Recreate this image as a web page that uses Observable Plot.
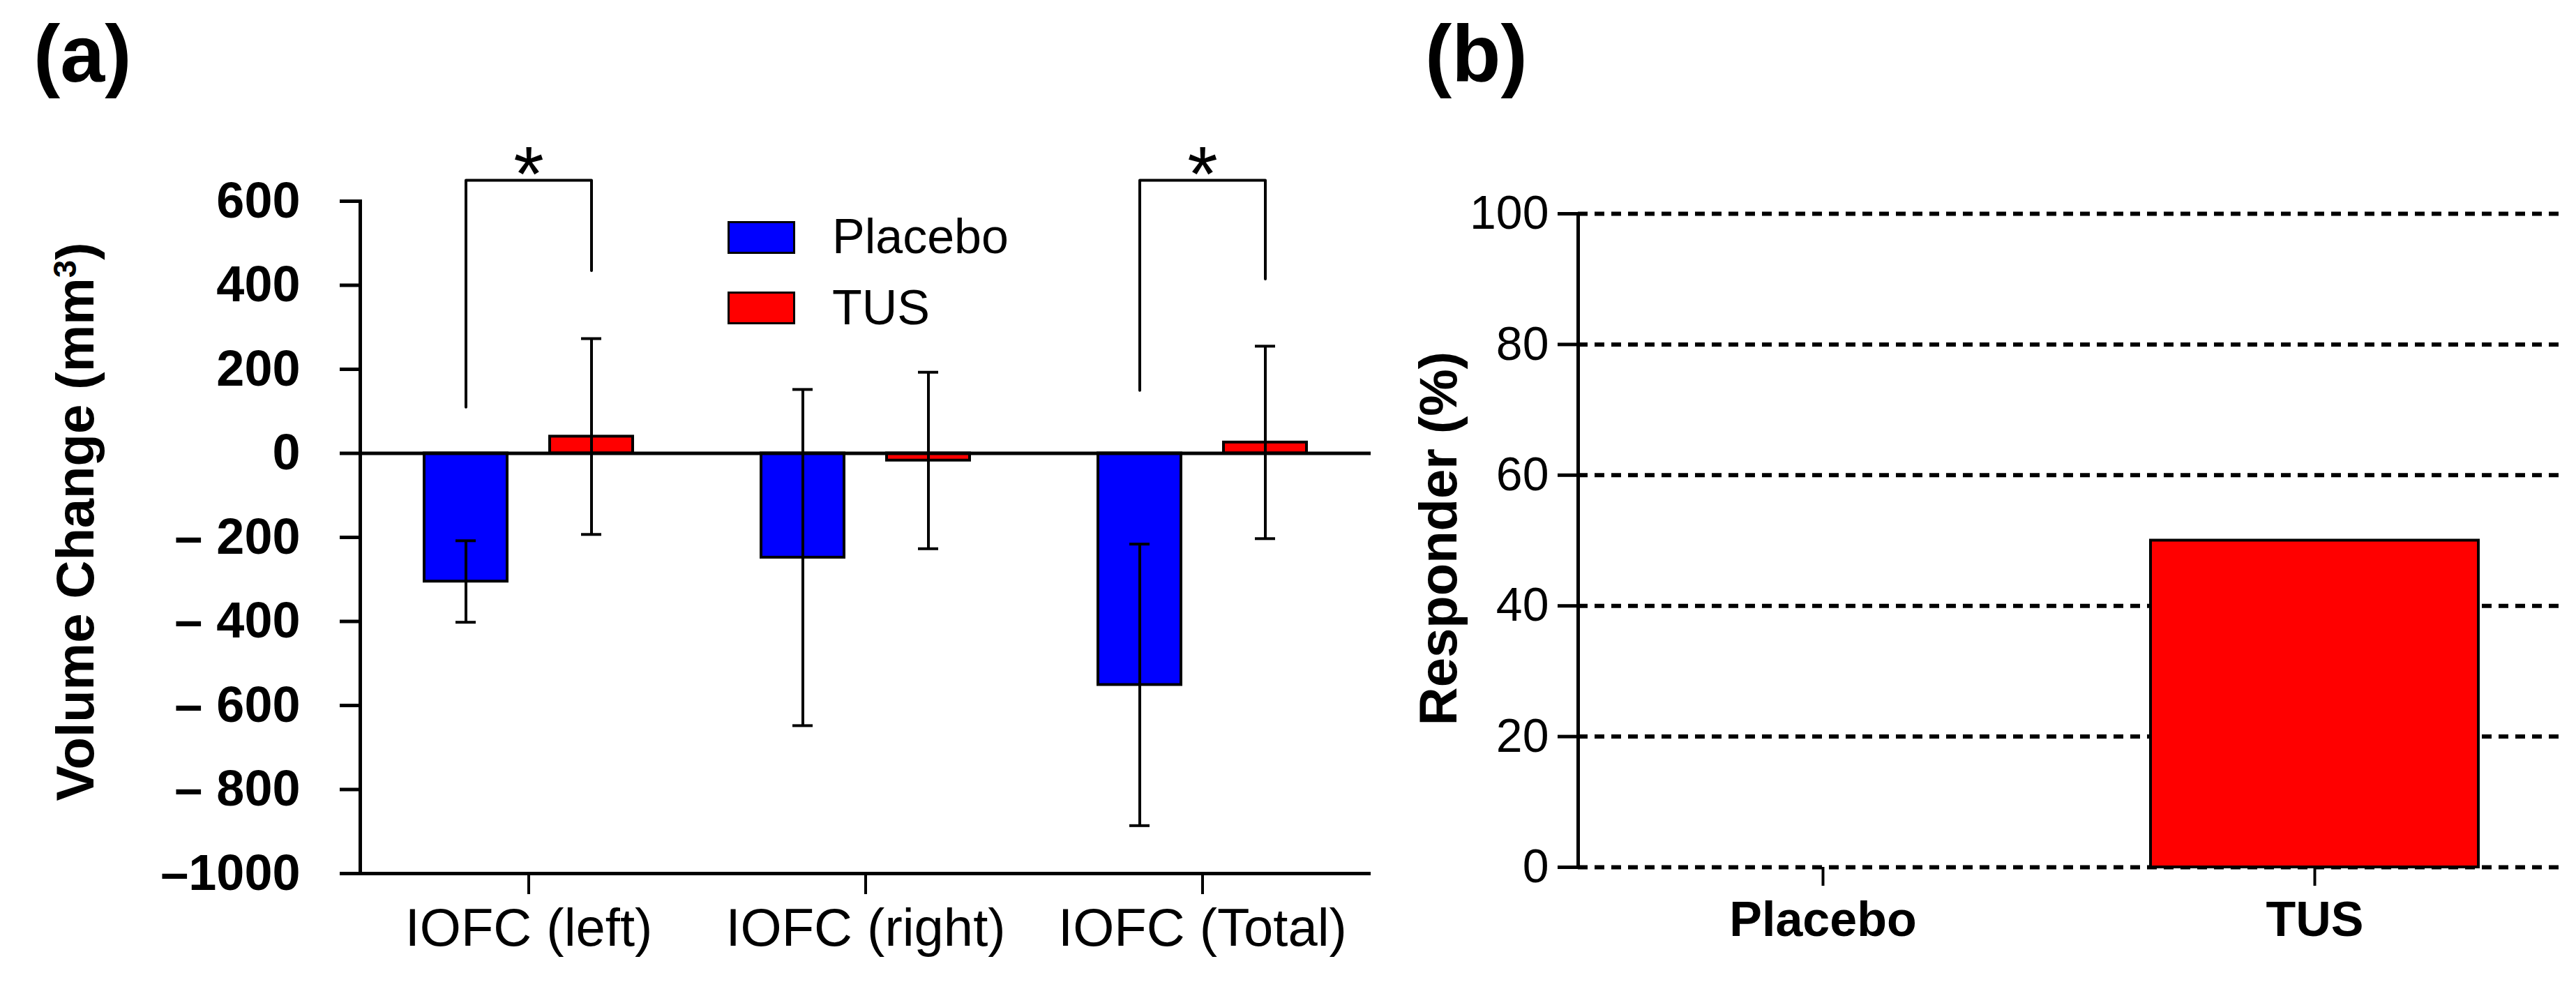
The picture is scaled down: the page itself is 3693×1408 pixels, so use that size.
<!DOCTYPE html>
<html><head><meta charset="utf-8">
<script src="https://cdn.jsdelivr.net/npm/d3@7"></script>
<script src="https://cdn.jsdelivr.net/npm/@observablehq/plot@0.6"></script>
<style>
html,body{margin:0;padding:0;background:#fff;}
#root{position:relative;width:3693px;height:1408px;overflow:hidden;font-family:"Liberation Sans",Arial,sans-serif;color:#000;}
.abs{position:absolute;white-space:nowrap;line-height:1;}
.ytitle{font-weight:bold;font-size:76px;transform:translate(-50%,-50%) rotate(-90deg);}
.panel{font-weight:bold;font-size:115px;}
.sw{position:absolute;box-sizing:border-box;border:3px solid #000;}
</style></head><body><div id="root"></div>
<script>
// ---- Panel (a) data ----
const categories = ["IOFC (left)", "IOFC (right)", "IOFC (Total)"];
const groups = ["Placebo", "TUS"];
const groupColors = ["#0000ff", "#ff0000"];
const placeboMean = [-305, -248, -551];
const placeboErr = [97, 400, 335];
const tusMean = [40, -17, 26];
const tusErr = [233, 210, 229];
const yDomainA = [-1000, 600];
const yTicksA = [600, 400, 200, 0, -200, -400, -600, -800, -1000];
const sigCategories = ["IOFC (left)", "IOFC (Total)"];
const sigTop = [650, 650];
const sigPlaceboEnd = [110, 150];
const sigTusEnd = [435, 415];
const sigLabel = ["*", "*"];

// ---- Panel (b) data ----
const responderGroups = ["Placebo", "TUS"];
const responderPct = [0, 50];
const yDomainB = [0, 100];
const yTicksB = [0, 20, 40, 60, 80, 100];

const font = '"Liberation Sans", Arial, sans-serif';

const rowsA = [];
categories.forEach((c, i) => {
  rowsA.push({cat: c, group: groups[0], value: placeboMean[i], err: placeboErr[i]});
  rowsA.push({cat: c, group: groups[1], value: tusMean[i], err: tusErr[i]});
});
const caps = rowsA.flatMap(d => [{cat: d.cat, group: d.group, y: d.value - d.err}, {cat: d.cat, group: d.group, y: d.value + d.err}]);
const bracketPts = sigCategories.flatMap((c, i) => [
  {cat: c, group: groups[0], y: sigPlaceboEnd[i]},
  {cat: c, group: groups[0], y: sigTop[i]},
  {cat: c, group: groups[1], y: sigTop[i]},
  {cat: c, group: groups[1], y: sigTusEnd[i]}
]);
const sigRows = sigCategories.map((c, i) => ({cat: c, y: sigTop[i], label: sigLabel[i]}));

const fmtA = d => d < 0 ? (d <= -1000 ? "\u2013" + (-d) : "\u2013 " + (-d)) : String(d);

const plotA = Plot.plot({
  width: 1990, height: 1408,
  marginLeft: 515, marginRight: 24, marginTop: 288, marginBottom: 156,
  style: {fontFamily: font, background: "transparent", overflow: "visible"},
  fx: {domain: categories, padding: 0, label: null},
  x: {domain: groups, paddingInner: 0.337, paddingOuter: 0.506, axis: null},
  y: {domain: yDomainA, label: null},
  color: {domain: groups, range: groupColors},
  marks: [
    Plot.barY(rowsA, {fx: "cat", x: "group", y: "value", fill: "group", stroke: "black", strokeWidth: 4}),
    Plot.ruleY([0], {stroke: "black", strokeWidth: 5}),
    Plot.ruleY([yDomainA[0]], {stroke: "black", strokeWidth: 5}),
    Plot.ruleX(rowsA, {fx: "cat", x: "group", y1: d => d.value - d.err, y2: d => d.value + d.err, stroke: "black", strokeWidth: 4}),
    Plot.tickY(caps, {fx: "cat", x: "group", y: "y", insetLeft: 45, insetRight: 45, stroke: "black", strokeWidth: 4}),
    Plot.line(bracketPts, {fx: "cat", x: "group", y: "y", z: "cat", stroke: "black", strokeWidth: 4}),
    Plot.text(sigRows, {fx: "cat", y: "y", text: "label", lineAnchor: "bottom", dy: 30, fontSize: 112, fill: "black"}),
    Plot.axisY({ticks: yTicksA, tickSize: 29, tickPadding: 57, tickFormat: fmtA, fontSize: 72, fontWeight: "bold", strokeWidth: 5, label: null}),
    Plot.axisFx({anchor: "bottom", tickSize: 30, tickPadding: 20, fontSize: 76, strokeWidth: 4, label: null}),
    Plot.frame({anchor: "left", facetAnchor: "left", stroke: "black", strokeWidth: 5})
  ]
});

const rowsB = responderGroups.map((g, i) => ({group: g, pct: responderPct[i]}));
const plotB = Plot.plot({
  width: 1703, height: 1408,
  marginLeft: 272, marginRight: 25, marginTop: 306, marginBottom: 165,
  style: {fontFamily: font, background: "transparent", overflow: "visible"},
  x: {domain: responderGroups, paddingInner: 0.334, paddingOuter: 0.163, axis: null},
  y: {domain: yDomainB, label: null},
  color: {domain: groups, range: groupColors},
  marks: [
    Plot.ruleY(yTicksB, {stroke: "black", strokeWidth: 6, strokeDasharray: "14,10"}),
    Plot.barY(rowsB, {x: "group", y: "pct", fill: "group", stroke: "black", strokeWidth: 4}),
    Plot.axisY({ticks: yTicksB, tickSize: 29, tickPadding: 13, fontSize: 68, strokeWidth: 5, label: null}),
    Plot.axisX({tickSize: 27, tickPadding: 22, fontSize: 70, fontWeight: "bold", strokeWidth: 4, label: null}),
    Plot.frame({anchor: "left", stroke: "black", strokeWidth: 5})
  ]
});

const root = document.getElementById("root");
plotA.style.position = "absolute"; plotA.style.left = "0px"; plotA.style.top = "0px";
plotB.style.position = "absolute"; plotB.style.left = "1990px"; plotB.style.top = "0px";
root.appendChild(plotA);
root.appendChild(plotB);

function addDiv(cls, text, css) {
  const d = document.createElement("div");
  d.className = cls;
  d.textContent = text;
  Object.assign(d.style, css);
  root.appendChild(d);
  return d;
}
addDiv("abs panel", "(a)", {left: "48px", top: "20px"});
addDiv("abs panel", "(b)", {left: "2043px", top: "20px"});
const ta = addDiv("abs ytitle", "", {left: "108px", top: "748px"});
ta.innerHTML = "Volume Change (mm<sup style=\"font-size:0.6em;vertical-align:0.55em;line-height:0\">3</sup>)";
addDiv("abs ytitle", "Responder (%)", {left: "2062px", top: "772px"});

// legend (panel a)
const legendTops = [317, 418];
const legendTextTops = [304, 406];
groups.forEach((g, i) => {
  const s = document.createElement("div");
  s.className = "sw";
  Object.assign(s.style, {left: "1043px", top: legendTops[i] + "px", width: "97px", height: "47px", background: groupColors[i]});
  root.appendChild(s);
  addDiv("abs", g, {left: "1193px", top: legendTextTops[i] + "px", fontSize: "70px"});
});
</script></body></html>
